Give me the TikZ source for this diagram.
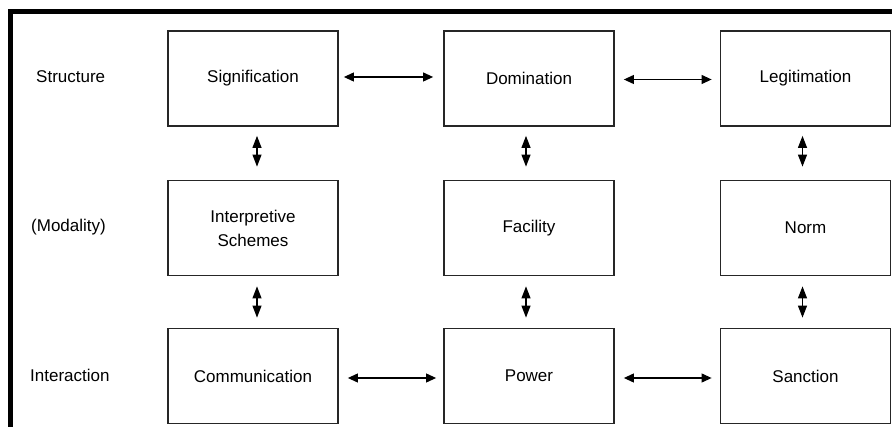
\documentclass[tikz,border=0pt]{standalone}
\usepackage{fontspec}
\setmainfont{Liberation Sans}
\usetikzlibrary{arrows.meta}
\begin{document}
\begin{tikzpicture}[x=1pt,y=-1pt,
  box/.style={draw=black!85,line width=1.8pt,minimum width=170pt,minimum height=95pt,inner sep=0pt,align=center,font=\fontsize{17}{24}\selectfont},
  rowlabel/.style={anchor=west,inner sep=0pt,font=\fontsize{17}{20}\selectfont},
  link/.style={line width=1.1pt,{Triangle[length=10pt,width=9pt]}-{Triangle[length=10pt,width=9pt]}},
  vlink/.style={line width=1.1pt,{Triangle[length=12pt,width=9pt]}-{Triangle[length=12pt,width=9pt]}}]
\useasboundingbox (0,0) rectangle (892,427);
\fill[white] (0,0) rectangle (892,427);
% frame
\draw[line width=5pt,line join=miter] (10.5,427) -- (10.5,11.5) -- (892,11.5);
% row labels
\node[rowlabel] (lstruct) at (36,77) {Structure};
\node[rowlabel] (lmod) at (31,227) {(Modality)};
\node[rowlabel] (linter) at (30,375) {Interaction};
% boxes
\node[box] (sig) at (253,78.5) {Signification};
\node[box] (dom) at (529,78.5) {Domination};
\node[box] (leg) at (805.5,78.5) {Legitimation};
\node[box] (int) at (253,228) {Interpretive\\Schemes};
\node[box] (fac) at (529,228) {Facility};
\node[box] (nor) at (805.5,228) {Norm};
\node[box] (com) at (253,376) {Communication};
\node[box] (pow) at (529,376) {Power};
\node[box] (san) at (805.5,376) {Sanction};
% horizontal links
\draw[link] ([xshift=5pt,yshift=1.5pt]sig.east) -- ([xshift=-10pt,yshift=1.5pt]dom.west);
\draw[link] ([xshift=9pt,yshift=-1pt]dom.east) -- ([xshift=-8pt,yshift=-1pt]leg.west);
\draw[link] ([xshift=9pt,yshift=-2pt]com.east) -- ([xshift=-7pt,yshift=-2pt]pow.west);
\draw[link] ([xshift=9pt,yshift=-2pt]pow.east) -- ([xshift=-8pt,yshift=-2pt]san.west);
% vertical links
\draw[vlink] ([xshift=4pt,yshift=-9pt]sig.south) -- ([xshift=4pt,yshift=13pt]int.north);
\draw[vlink] ([xshift=-3pt,yshift=-9pt]dom.south) -- ([xshift=-3pt,yshift=13pt]fac.north);
\draw[vlink] ([xshift=-3pt,yshift=-9pt]leg.south) -- ([xshift=-3pt,yshift=13pt]nor.north);
\draw[vlink] ([xshift=4pt,yshift=-10pt]int.south) -- ([xshift=4pt,yshift=10pt]com.north);
\draw[vlink] ([xshift=-3pt,yshift=-10pt]fac.south) -- ([xshift=-3pt,yshift=10pt]pow.north);
\draw[vlink] ([xshift=-3pt,yshift=-10pt]nor.south) -- ([xshift=-3pt,yshift=10pt]san.north);
\end{tikzpicture}
\end{document}
